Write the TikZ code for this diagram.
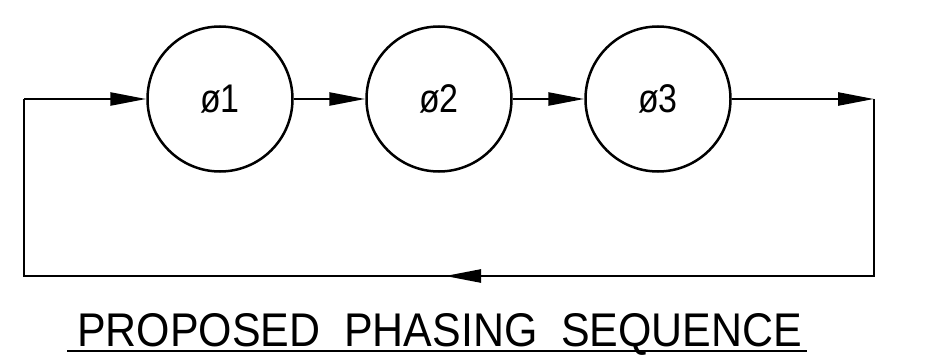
\documentclass[tikz,border=0pt]{standalone}
\usepackage{fontspec}
\setmainfont{Liberation Sans}
\usetikzlibrary{arrows.meta}
\tikzset{
  x=1pt, y=-1pt,
  phase/.style={circle, draw, line width=2.5pt, minimum size=145pt, inner sep=0pt,
    font=\fontsize{40}{40}\selectfont},
  conn/.style={line width=2.5pt},
  arr/.style={conn, -{Triangle[length=36pt,width=13pt]}},
}
\begin{document}
\begin{tikzpicture}
\useasboundingbox (0,0) rectangle (935,361);
\node[phase] (c1) at (220,99) {\scalebox{0.85}[1]{ø1}};
\node[phase] (c2) at (439,99) {\scalebox{0.85}[1]{ø2}};
\node[phase] (c3) at (658,99) {\scalebox{0.85}[1]{ø3}};
\coordinate (TR) at (874,99);
\coordinate (BR) at (874,276);
\coordinate (M) at (445,276);
\coordinate (BL) at (24,276);
\coordinate (TL) at (24,99);
\draw[arr] (c1) -- (c2);
\draw[arr] (c2) -- (c3);
\draw[arr] (c3) -- (TR);
\draw[conn] (TR) -- (BR) -- (M);
\draw[arr] (BR) -- (M);
\draw[conn] (M) -- (BL) -- (TL);
\draw[arr] (TL) -- (c1);
\node[anchor=base west, inner sep=0pt] (title) at (77,346)
  {\resizebox{725pt}{33pt}{\fontsize{46}{46}\selectfont PROPOSED\ \ PHASING\ \ SEQUENCE}};
\coordinate (UL) at (67,351);
\coordinate (UR) at (807,351);
\draw[line width=2.8pt] (UL) -- (UR);
\end{tikzpicture}
\end{document}
